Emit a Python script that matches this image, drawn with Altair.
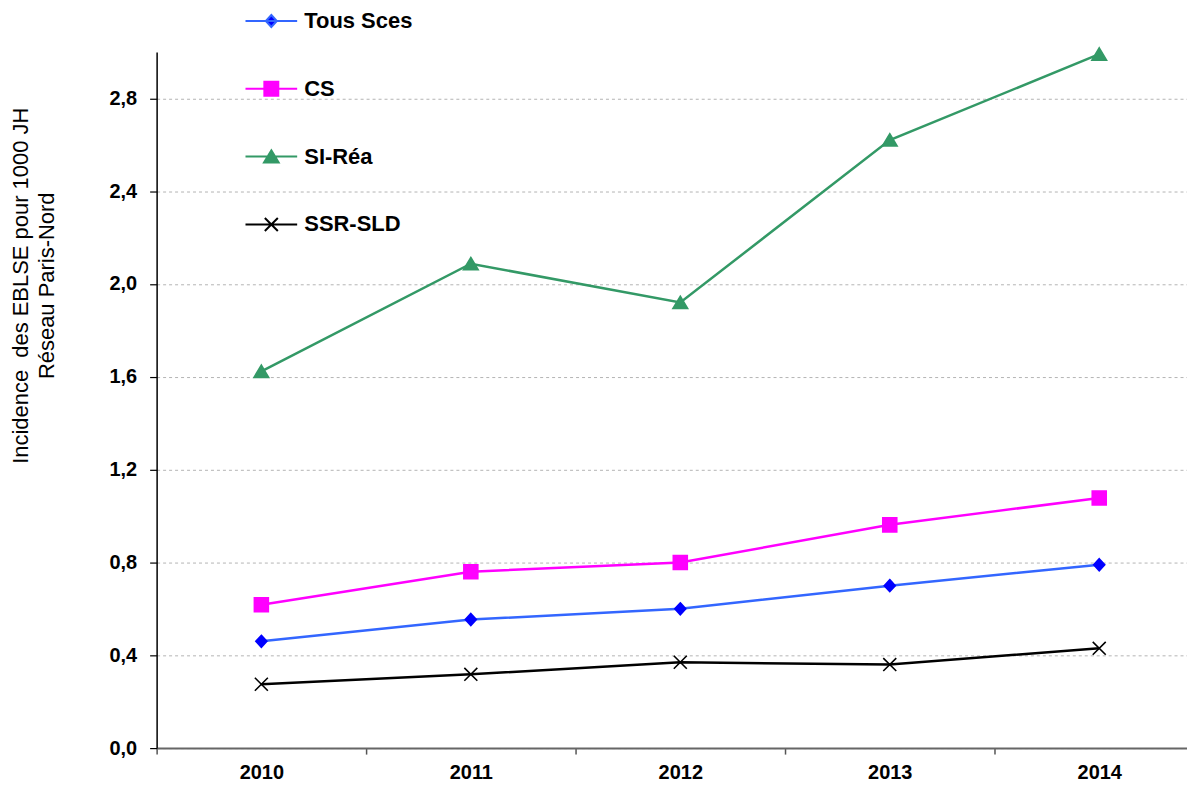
import altair as alt
import pandas as pd

# ---- data ----
years = [2010, 2011, 2012, 2013, 2014]
series_names = ["Tous Sces", "CS", "SI-Réa", "SSR-SLD"]
tous_sces = [0.46, 0.554, 0.60, 0.70, 0.79]
cs = [0.618, 0.76, 0.80, 0.962, 1.078]
si_rea = [1.623, 2.087, 1.92, 2.62, 2.99]
ssr_sld = [0.275, 0.318, 0.37, 0.36, 0.43]
y_ticks = [0.0, 0.4, 0.8, 1.2, 1.6, 2.0, 2.4, 2.8]
y_title = ["Incidence\u00a0 des EBLSE pour 1000 JH", "Réseau Paris-Nord"]

rows = []
for name, vals in zip(series_names, [tous_sces, cs, si_rea, ssr_sld]):
    for yr, v in zip(years, vals):
        rows.append({"year": yr, "value": v, "series": name})
df = pd.DataFrame(rows)

# ---- styles ----
line_colors = ["#3366FF", "#FF00FF", "#339966", "#000000"]
marker_colors = ["#0000FF", "#FF00FF", "#339966", "#000000"]
marker_paths = [
    "M0,-0.86L0.79,0L0,0.86L-0.79,0Z",
    "M-1,-1H1V1H-1Z",
    "M0,-0.9L1.05,0.85H-1.05Z",
    "M-0.93,-0.93L0.93,0.93M-0.93,0.93L0.93,-0.93",
]
legend_paths = ["M-3.7,0H3.7" + p for p in marker_paths]

FONT = "Liberation Sans"

x_enc = alt.X(
    "year:Q",
    scale=alt.Scale(domain=[2009.5, 2014.419], nice=False, zero=False),
    axis=alt.Axis(
        values=years, format="d", tickOffset=-105, labelOffset=105,
        tickSize=6, tickColor="#555555", tickWidth=1.5,
        domainColor="#666666", domainWidth=2,
        labelFont=FONT, labelFontSize=20, labelFontWeight="bold",
        labelColor="black", labelPadding=8, labelFlush=False,
        labelOverlap=False, grid=False, title=None,
    ),
)
y_enc = alt.Y(
    "value:Q",
    scale=alt.Scale(domain=[0, 3.0], nice=False, zero=True),
    axis=alt.Axis(
        values=y_ticks,
        labelExpr="replace(format(datum.value, '.1f'), '.', ',')",
        tickSize=7, tickColor="black", tickWidth=1.2,
        domainColor="black", domainWidth=1.5,
        gridColor="#b4b4b4", gridDash=[3, 3], gridWidth=1,
        labelFont=FONT, labelFontSize=20, labelFontWeight="bold",
        labelColor="black", labelPadding=13,
        title=y_title, titleFont=FONT, titleFontSize=22,
        titleFontWeight="normal", titleColor="black",
        titleAngle=270, titleX=-146, titleY=234,
        titleAlign="center", titleBaseline="top", titleLineHeight=26,
    ),
)

lines = alt.Chart(df).mark_line(strokeWidth=2.5).encode(
    x=x_enc, y=y_enc,
    color=alt.Color("series:N", scale=alt.Scale(domain=series_names, range=line_colors), legend=None),
)

points = alt.Chart(df).mark_point(filled=True, size=196, strokeWidth=1.6, opacity=1).encode(
    x=x_enc, y=y_enc,
    color=alt.Color("series:N", scale=alt.Scale(domain=series_names, range=marker_colors), legend=None),
    stroke=alt.Stroke("series:N", scale=alt.Scale(domain=series_names, range=marker_colors), legend=None),
    shape=alt.Shape("series:N", scale=alt.Scale(domain=series_names, range=marker_paths), legend=None),
)

leg = alt.Legend(
    orient="none", legendX=104, legendY=-42, title=None,
    labelFont=FONT, labelFontSize=22, labelFontWeight="bold", labelColor="black",
    labelOffset=22, rowPadding=46, symbolSize=196, symbolStrokeWidth=2,
    direction="vertical",
)

legend_layer = alt.Chart(df).transform_filter("false").mark_point(
    filled=True, size=196, strokeWidth=2, opacity=1
).encode(
    x=x_enc, y=y_enc,
    color=alt.Color("series:N", scale=alt.Scale(domain=series_names, range=marker_colors), legend=leg),
    stroke=alt.Stroke("series:N", scale=alt.Scale(domain=series_names, range=line_colors), legend=leg),
    shape=alt.Shape("series:N", scale=alt.Scale(domain=series_names, range=legend_paths), legend=leg),
)

chart = alt.layer(lines, points, legend_layer).resolve_scale(
    color="independent", stroke="independent", shape="independent"
).properties(
    width=1033, height=698,
    autosize=alt.AutoSizeParams(type="none"),
    padding={"left": 149, "top": 43, "right": 0, "bottom": 36},
    background="white",
).configure_view(stroke=None)

chart.save("out.html", embed_options={"renderer": "svg", "actions": False})
